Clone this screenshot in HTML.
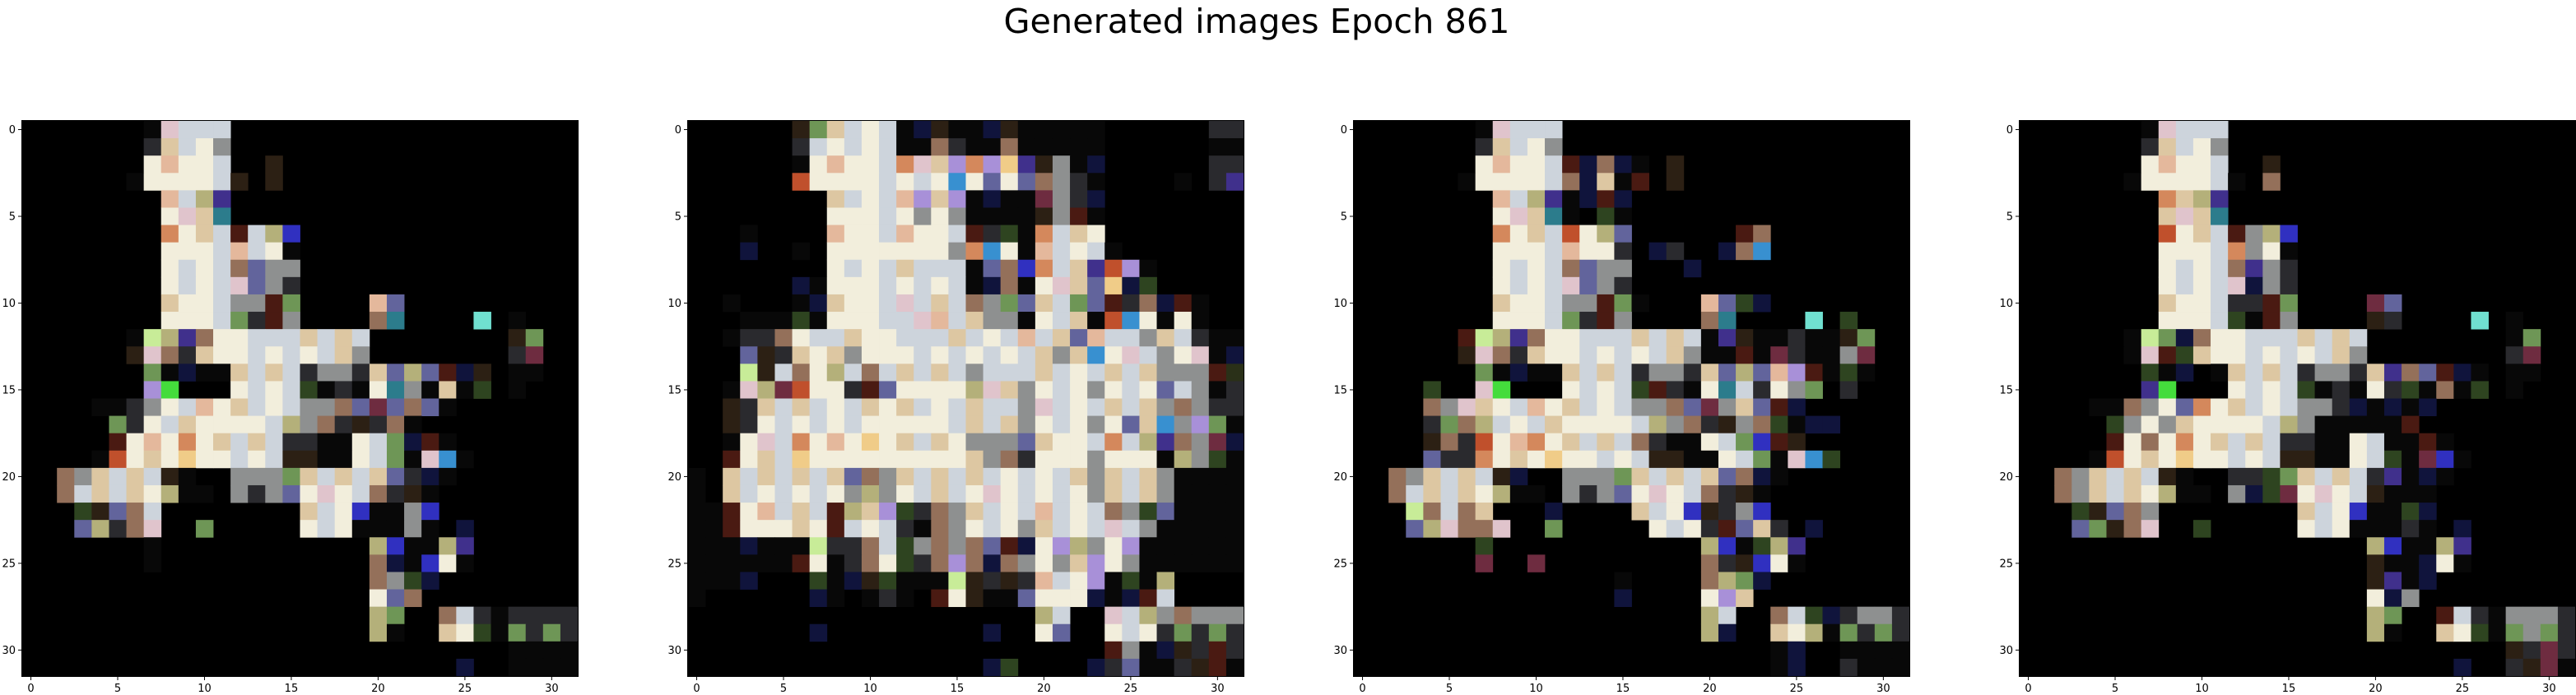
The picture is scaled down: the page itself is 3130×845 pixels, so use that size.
<!DOCTYPE html>
<html><head><meta charset="utf-8">
<style>
html,body{margin:0;padding:0;background:#fff;}
svg{display:block;}
</style></head>
<body>
<svg id="fig" width="3130" height="845" viewBox="0 0 3130 845" xmlns="http://www.w3.org/2000/svg">
<rect x="0" y="0" width="3130" height="845" fill="#fff"/>
<text x="1527" y="40" text-anchor="middle" font-family="DejaVu Sans, Liberation Sans, sans-serif" font-size="41" textLength="615" lengthAdjust="spacingAndGlyphs" fill="#000">Generated images Epoch 861</text>
</svg>
<script>
const xTicks = [0,5,10,15,20,25,30];
const yTicks = [0,5,10,15,20,25,30];
const panelLefts = [27,836,1645,2454];

const image1 = [
"......." + "xlbbb" + "....................",
"......." + "dtbwm" + "....................",
"......." + "wPwwb" + ".." + "k" + ".................",
"......" + "x" + "wwwwb" + "k.k" + ".................",
"........" + "Pbyp" + "....................",
"........" + "wltT" + "....................",
"........" + "owtbrbyB" + "................",
"........" + "wwwbPbwx" + "................",
"........" + "wbwbuvmm" + "................",
"........" + "wbwblvmd" + "................",
"........" + "twwbmmrg" + "...." + "Pv" + "..........",
"........" + "wwwbgdrm" + "...." + "uT" + "...." + "c" + "." + "x" + "...",
"......" + "xLypuwwbbbtbtb" + "........" + "kg" + "..",
"......" + "kludtwwbwbwbtm" + "........" + "dR" + "..",
"......." + "gxnxxtbtbdmmdtvyvrnk" + ".xx..",
"......." + "VG" + "..." + "wbwbqxdxwTmxtxq" + ".x...",
"....xx" + "dmwbPwtbwbmmuvRvuvx" + ".......",
"....." + "gdwbtwwwwbymudkdux" + ".........",
"....." + "rwPwowtbtbddxxwbgnrx" + ".......",
"...." + "x" + "OwtwYwwbwbkkxxwbgxlCx" + "......",
".." + "umtbtbkx.." + "mmmgtbtbtvdnx" + ".......",
".." + "ubtbtwyxx." + "mdmvwlwbudkx" + "........",
"..." + "qkvub" + "........" + "tbwBxxmB" + "........",
"..." + "vydul" + ".." + "g" + "....." + "wbwxxxmx.n" + "......",
"......." + "x" + "............" + "yBxxyp" + "......",
"......." + "x" + "............" + "unxBwx" + "......",
"...................." + "umqn" + "........",
"...................." + "wvu" + ".........",
"...................." + "yg..ubdxdddd",
"...................." + "yx..twqxgdgd",
"............................" + "xxxx",
"........................." + "n.." + "xxxx"
];

const image2 = [
"......" + "kgtbwbxnkxxnkxxxxx" + "......" + "dd",
"......" + "dbwbwbxxudxxuxxxxx" + "......" + "xx",
"......" + "xwPwwboltVoVYpkmxn" + "......" + "dd",
"......" + "OwwwwbwbwCwvwvumdx" + "....x." + "dp",
"........" + "tbwbPVtVxnxxRmdn" + "........",
"........" + "wwwbwmwmxxxxkmrx" + "........",
"...x...." + "PwwbPwwbrdqxobtw" + "........",
"...n..x." + "wwwwwwwmoCwxPbwbx" + ".......",
"........" + "wbwbtbbbxvuBobtpOVx" + ".....",
"......" + "nxwwwbwbwbxnuxwltvYnq" + ".....",
"..x...x" + "ntwwblbtbumgvtbgvrdunrx" + "..",
"...xxxqx" + "wwwbblPbtmmxwbtxOCwxwx" + "..",
"..xdd" + "uwbbtwwbbbtbwbPbtvPbbmtbdxx",
"...vkd" + "twtmwwwbwbwbwbtmtCwlbmwlxn",
"..." + "LkbuwybubtbtbmbbbtbwbtbtmmmrQ",
"..x" + "lyROwwdrvwwwwyltmwbwmwbwvbmxd",
"..kd" + "tbtbwbtwtbwbtbbmlbwbtbtmumdd",
"..kd" + "wbwbwbwwwwwbtbtmwbwmwvtCmVgx",
"..x" + "wlbowPwYwtbtwmmmvtwwbobypumRn",
"..r" + "wtbYwwwwwwwwwtmudwwwmwwwxymqx",
"x." + "tbtbtbtvumtbtbtbwbwbtmtbtmxxxx",
"x." + "tbwbwbwmymwbtbwlwbwbwmtbtmxxxx",
"xx" + "rwPbtbrytVqdumtbwbPbwbumqvxxxx",
"xx" + "rwwwtwrbwbdxumwbwmtbwblbmxxxxx",
"xxxnxxx" + "LddubqmumuvrnwVymwV" + "xxxxxx",
"xxxxxx" + "rwxduwqduVunumwmtVwm" + "xxxxxx",
"xxxn..." + "qxnkqxxxLkdkdPbwVxqxy" + "....",
"x......" + "nx.xdx.rwkxxvwwwnxnrb" + "....",
"...................." + "yb..lbymummm",
"......." + "n" + "........." + "n.." + "wv..wbwdgdgd",
"........................" + "rmxnkdrd",
"................." + "nq" + "...." + "ndvxxdkrx"
];

const image3 = [
"......." + "xlbbb" + "....................",
"......." + "dtbwm" + "....................",
"......." + "wPwwb" + "rnun" + "x.k" + "...........",
"......" + "x" + "wwwwb" + "unt" + "xr.k" + "..........",
"........" + "Pbyp" + "xnrn" + "................",
"........" + "wltT" + "x.qx" + "................",
"........" + "owtbOwyv" + "......" + "ru" + "........",
"........" + "wwwbPwwd" + ".nd..n" + "uC" + "........",
"........" + "wbwbuvmm" + "...n" + "............",
"........" + "wbwblvmd" + "................",
"........" + "twwbmmrg" + "x..." + "Pvqn" + "........",
"........" + "wwwbgdrm" + "...." + "uT" + "...." + "c" + "." + "q" + "...",
"......" + "rLypuwwbbbtbtb" + "xpkx" + "xdxx" + "kg" + "..",
"......" + "kludtwwbwbwbtm" + "xxrx" + "Rdxx" + "mR" + "..",
"......." + "gxnxxtbtbdmmdtvyvPVr" + "xqx..",
"....q.." + "lG" + "..." + "wbwbqrdxwTbdwmg" + ".d...",
"....um" + "ltwbPwtbwbmmuvRmtvr" + "n......",
"....dgu" + "ybwbtwwwwbymudkmuqx" + "nn....",
"....ku" + "dOwPowtbtbudxxwbgBrk" + "......",
"....vdd" + "owtwYwwbwbkkxxwbgxlCq" + "......",
".." + "umtbtbkn.." + "mmmgtbtbtvunx" + ".......",
".." + "ubtbtwyxx." + "mdmvwlwbudkx" + "........",
"..." + "Lubut" + "...n...." + "tbwBkdmB" + "........",
"..." + "vyluu" + "l" + "..g" + "....." + "wbwdrvtd.n" + "......",
"......." + "q" + "............" + "yBxqyp" + "......",
"......." + "R" + "..R" + "........." + "udkBwx" + "......",
"..............." + "x...." + "uygn" + "........",
"..............." + "n...." + "wVt" + ".........",
"...................." + "yb..ubqndmmd",
"...................." + "yn..twyxgdgd",
"........................" + "xn.." + "xxxx",
"........................" + "xn.." + "dxxx"
];

const image4 = [
"......." + "xlbbb" + "....................",
"......." + "dtbwm" + "....................",
"......." + "wPwwb" + ".." + "k" + ".................",
"......" + "x" + "wwwwb" + "x.u" + ".................",
"........" + "otyp" + "....................",
"........" + "tltT" + "....................",
"........" + "OwtbrmyB" + "................",
"........" + "wwwbomwx" + "................",
"........" + "wbwbupmd" + "................",
"........" + "wbwblnmd" + "................",
"........" + "twwbddrg" + "...." + "Rv" + "..........",
"........" + "wwwbqxrm" + "...." + "kd" + "...." + "c" + "." + "x" + "...",
"......" + "xLgnuwwbbbtbtb" + "........" + "xg" + "..",
"......" + "xlrqtwwbwbwbtm" + "........" + "dR" + "..",
"......." + "qxn.xtbtbdmmdtpuvrnx" + ".xx..",
"......." + "pG" + "..." + "wbwbqxdxwdqxuxq" + ".x...",
"....xx" + "umwvowtbwbmmdn" + "xnxn." + ".......",
"....." + "qmwmtwwwwbymxxxxxr" + ".........",
"....." + "rwuwowtbtbddxxwbxxrx" + ".......",
"...." + "x" + "OwtwYwwbwbkkxxwbqxRBx" + "......",
".." + "umtbtbkx.." + "ddqgtbtbdpxnx" + ".......",
".." + "umtbtwyxx." + "mnqRwlwbkxxx" + "........",
"..." + "qkvum" + "........" + "tbwBxxqn" + "........",
"..." + "vgkul" + ".." + "q" + "....." + "wbwxxxdx.n" + "......",
"...................." + "yBxxyp" + "......",
"...................." + "kxxnwx" + "......",
"...................." + "kpxn" + "........",
"...................." + "wnm" + ".........",
"...................." + "yg..rbdxmmmd",
"...................." + "yx..twqxgmgd",
"............................" + "kdRd",
"........................." + "n.." + "dkRx"
];

const images = [image1, image2, image3, image4];
const palette = {
  '.':'#000000','x':'#080808','w':'#f2eedc','b':'#cdd4dc','t':'#ddc7a2','P':'#e4b89c',
  'o':'#d4885c','O':'#c0502c','r':'#4a1a12','R':'#6e2c40','u':'#94705a','g':'#6e9656',
  'G':'#44dc3c','q':'#2e4420','p':'#40308c','B':'#3030c0','v':'#62649c','V':'#a890d8',
  'm':'#8e9090','d':'#2a2a2e','k':'#2c2014','c':'#70e0d0','C':'#3890d0','l':'#e0c4cc',
  'y':'#b4b07a','Y':'#f0cc88','T':'#2c7c8c','n':'#10143c','L':'#c8ec98','Q':'#2a3018'
};

const svg = document.getElementById('fig');
const NS = 'http://www.w3.org/2000/svg';
const AX = 675, TOP = 147, N = 32;
function xScale(left, i){ return left + i * AX / N; }
function yScale(j){ return TOP + j * AX / N; }

images.forEach((img, p) => {
  const left = panelLefts[p];
  const g = document.createElementNS(NS, 'g');
  
  
  svg.appendChild(g);
  const bg = document.createElementNS(NS, 'rect');
  bg.setAttribute('x', left); bg.setAttribute('y', TOP);
  bg.setAttribute('width', AX); bg.setAttribute('height', AX);
  bg.setAttribute('fill', '#000');
  
  
  g.appendChild(bg);
  img.forEach((row, j) => {
    for (let i = 0; i < N; i++) {
      const ch = row[i] || '.';
      if (ch === '.') continue;
      const r = document.createElementNS(NS, 'rect');
      const x0 = xScale(left, i), x1 = xScale(left, i + 1);
      const y0 = yScale(j), y1 = yScale(j + 1);
      r.setAttribute('x', x0.toFixed(2)); r.setAttribute('y', y0.toFixed(2));
      r.setAttribute('width', (x1 - x0 + 0.4).toFixed(2));
      r.setAttribute('height', (y1 - y0 + 0.4).toFixed(2));
      r.setAttribute('fill', palette[ch] || '#000');
      
      
      g.appendChild(r);
    }
  });
  const frame = document.createElementNS(NS, 'rect');
  frame.setAttribute('x', left - 0.5); frame.setAttribute('y', TOP - 0.5);
  frame.setAttribute('width', AX + 1); frame.setAttribute('height', AX + 1);
  frame.setAttribute('fill', 'none'); frame.setAttribute('stroke', '#000'); frame.setAttribute('stroke-width', '1');
  
  
  g.appendChild(frame);
  xTicks.forEach(t => {
    const cx = xScale(left, t + 0.5);
    const ln = document.createElementNS(NS, 'line');
    ln.setAttribute('x1', cx); ln.setAttribute('x2', cx);
    ln.setAttribute('y1', TOP + AX); ln.setAttribute('y2', TOP + AX + 5);
    ln.setAttribute('stroke', '#000'); ln.setAttribute('stroke-width', '1');
    
    
    g.appendChild(ln);
    const tx = document.createElementNS(NS, 'text');
    tx.setAttribute('x', cx); tx.setAttribute('y', TOP + AX + 19);
    tx.setAttribute('text-anchor', 'middle');
    tx.setAttribute('font-family', 'DejaVu Sans, Liberation Sans, sans-serif');
    tx.setAttribute('font-size', '13');
    
    
    tx.textContent = t;
    g.appendChild(tx);
  });
  yTicks.forEach(t => {
    const cy = yScale(t + 0.5);
    const ln = document.createElementNS(NS, 'line');
    ln.setAttribute('x1', left - 5); ln.setAttribute('x2', left);
    ln.setAttribute('y1', cy); ln.setAttribute('y2', cy);
    ln.setAttribute('stroke', '#000'); ln.setAttribute('stroke-width', '1');
    
    
    g.appendChild(ln);
    const tx = document.createElementNS(NS, 'text');
    tx.setAttribute('x', left - 8); tx.setAttribute('y', cy + 4.5);
    tx.setAttribute('text-anchor', 'end');
    tx.setAttribute('font-family', 'DejaVu Sans, Liberation Sans, sans-serif');
    tx.setAttribute('font-size', '13');
    
    
    tx.textContent = t;
    g.appendChild(tx);
  });
});
</script>
</body></html>
